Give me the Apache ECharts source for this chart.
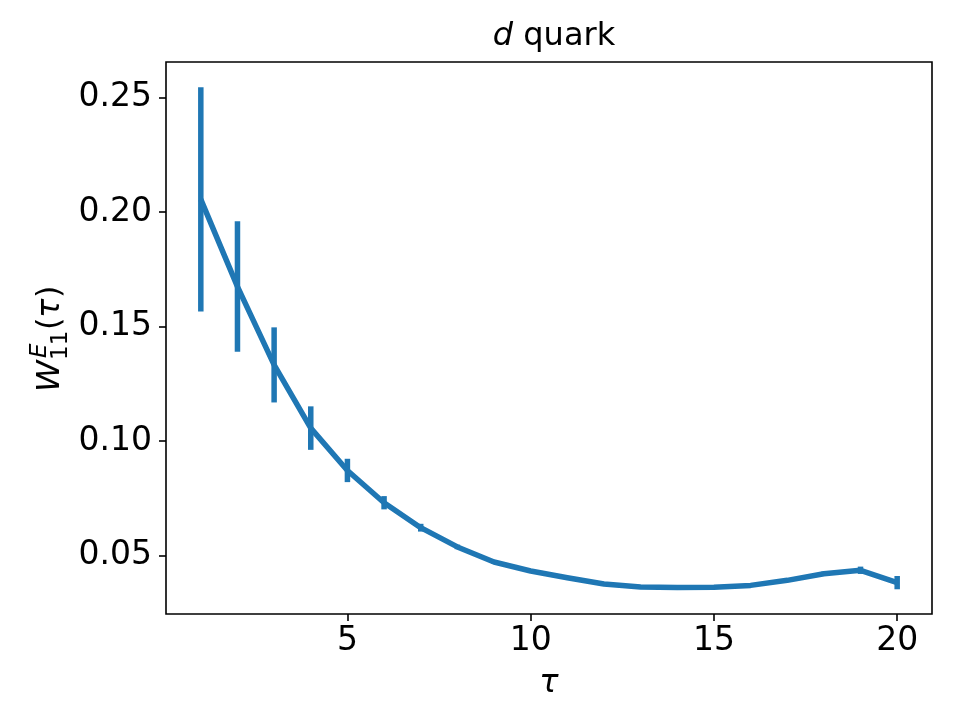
<!DOCTYPE html>
<html>
<head>
<meta charset="utf-8">
<script src="https://cdn.jsdelivr.net/npm/echarts@6/dist/echarts.min.js"></script>
<style>
  html, body { margin: 0; padding: 0; background: #fff; }
  #main { width: 960px; height: 720px; }
</style>
</head>
<body>
<div id="main"></div>
<script>
// tau values and W_11^E(tau) with error
var tauList = [1, 2, 3, 4, 5, 6, 7, 8, 9, 10, 11, 12, 13, 14, 15, 16, 17, 18, 19, 20];
var valueList = [0.2056, 0.1675, 0.1333, 0.1057, 0.0872, 0.0731, 0.0622, 0.0538, 0.0472, 0.0433,
                 0.0403, 0.0376, 0.0363, 0.0361, 0.0362, 0.0370, 0.0392, 0.0421, 0.0436, 0.0382];
var errList = [0.0490, 0.0285, 0.0164, 0.0095, 0.0051, 0.0029, 0.0017, 0.0010, 0.0008, 0.0007,
               0.0006, 0.0005, 0.0005, 0.0005, 0.0005, 0.0006, 0.0007, 0.0009, 0.0016, 0.0029];
var xTicks = [5, 10, 15, 20];
var yTicks = [0.05, 0.10, 0.15, 0.20, 0.25];

var font = 'DejaVu Sans';
var blue = '#1f77b4';

var myChart = echarts.init(document.getElementById('main'));

var lineData = tauList.map(function (t, i) { return [t, valueList[i]]; });
var barData = tauList.map(function (t, i) { return [t, valueList[i] - errList[i], valueList[i] + errList[i]]; });

var option = {
    animation: false,
    backgroundColor: '#fff',
    title: {
        text: '{i|d} quark',
        left: 549,
        top: 16,
        textAlign: 'center',
        textStyle: {
            fontFamily: font, fontSize: 32, fontWeight: 'normal', color: '#000',
            rich: { i: { fontFamily: font, fontSize: 32, fontStyle: 'italic', color: '#000' } }
        }
    },
    grid: {
        left: 166, right: 28, top: 62, bottom: 106,
        show: true, borderColor: '#000', borderWidth: 1.6, backgroundColor: 'transparent'
    },
    xAxis: {
        type: 'value',
        min: 0.05,
        max: 20.95,
        name: 'τ',
        nameLocation: 'middle',
        nameGap: 54,
        nameTextStyle: { fontFamily: font, fontSize: 32, fontStyle: 'italic', color: '#000' },
        axisLine: { show: false },
        splitLine: { show: false },
        axisTick: { show: true, inside: false, length: 7, customValues: xTicks, lineStyle: { color: '#000', width: 1.6 } },
        axisLabel: {
            customValues: xTicks, margin: 11,
            fontFamily: font, fontSize: 33, color: '#000',
            formatter: function (v) { return String(Math.round(v)); }
        }
    },
    yAxis: {
        type: 'value',
        min: 0.0245,
        max: 0.2656,
        axisLine: { show: false },
        splitLine: { show: false },
        axisTick: { show: true, inside: false, length: 7, customValues: yTicks, lineStyle: { color: '#000', width: 1.6 } },
        axisLabel: {
            customValues: yTicks, margin: 14,
            fontFamily: font, fontSize: 33, color: '#000',
            formatter: function (v) { return v.toFixed(2); }
        }
    },
    graphic: [{
        type: 'group',
        x: 49, y: 338,
        rotation: Math.PI / 2,
        children: [
            { type: 'text', x: -54, y: 2, style: { text: 'W', fontFamily: font, fontSize: 32, fontStyle: 'italic', fill: '#000', verticalAlign: 'middle' } },
            { type: 'text', x: -20, y: -9, style: { text: 'E', fontFamily: font, fontSize: 23, fontStyle: 'italic', fill: '#000', verticalAlign: 'middle' } },
            { type: 'text', x: -22, y: 12, style: { text: '11', fontFamily: font, fontSize: 23, fill: '#000', verticalAlign: 'middle' } },
            { type: 'text', x: 8, y: 2, style: { text: '(', fontFamily: font, fontSize: 32, fill: '#000', verticalAlign: 'middle' } },
            { type: 'text', x: 20, y: 2, style: { text: 'τ', fontFamily: font, fontSize: 32, fontStyle: 'italic', fill: '#000', verticalAlign: 'middle' } },
            { type: 'text', x: 40, y: 2, style: { text: ')', fontFamily: font, fontSize: 32, fill: '#000', verticalAlign: 'middle' } }
        ]
    }],
    series: [{
        type: 'custom',
        data: barData,
        z: 2,
        renderItem: function (params, api) {
            var p1 = api.coord([api.value(0), api.value(1)]);
            var p2 = api.coord([api.value(0), api.value(2)]);
            return {
                type: 'line',
                shape: { x1: p1[0], y1: p1[1], x2: p2[0], y2: p2[1] },
                style: { stroke: blue, lineWidth: 5.5 }
            };
        }
    }, {
        type: 'line',
        data: lineData,
        z: 3,
        showSymbol: false,
        lineStyle: { color: blue, width: 5.5, join: 'round' }
    }]
};
myChart.setOption(option);
</script>
</body>
</html>
